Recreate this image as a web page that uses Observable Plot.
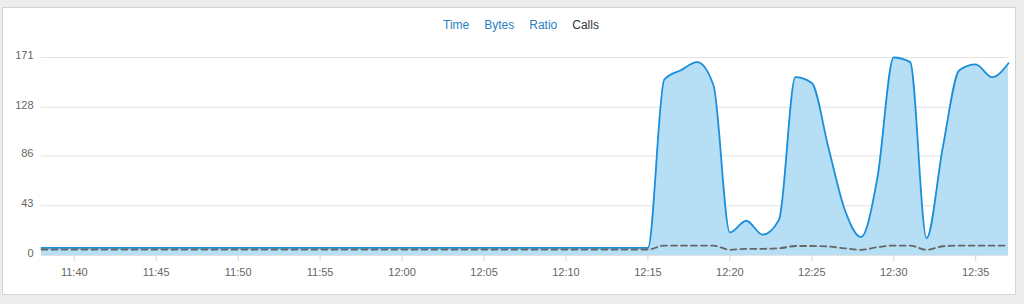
<!DOCTYPE html>
<html>
<head>
<meta charset="utf-8">
<script src="https://cdn.jsdelivr.net/npm/d3@7"></script>
<script src="https://cdn.jsdelivr.net/npm/@observablehq/plot@0.6"></script>
<style>
  html, body { margin: 0; padding: 0; background: #ededed; width: 1024px; height: 304px; overflow: hidden; font-family: "Liberation Sans", Arial, sans-serif; }
  #panel { position: absolute; left: 2px; top: 7px; width: 1012px; height: 286px; background: #fff; border: 1px solid #d4d4d4; }
  #legend { position: absolute; left: 443px; top: 18px; font-size: 12px; white-space: nowrap; }
  #legend span { margin-right: 15px; color: #2b80c0; }
  #legend span.active { color: #333; }
  #chart { position: absolute; left: 0; top: 40px; }
</style>
</head>
<body>
<div id="panel"></div>
<div id="legend"></div>
<div id="chart"></div>
<script>
const tabs = ["Time", "Bytes", "Ratio", "Calls"];
const activeTab = "Calls";

const times = [
  "11:38","11:39","11:40","11:41","11:42","11:43","11:44","11:45","11:46","11:47",
  "11:48","11:49","11:50","11:51","11:52","11:53","11:54","11:55","11:56","11:57",
  "11:58","11:59","12:00","12:01","12:02","12:03","12:04","12:05","12:06","12:07",
  "12:08","12:09","12:10","12:11","12:12","12:13","12:14","12:15","12:16","12:17",
  "12:18","12:19","12:20","12:21","12:22","12:23","12:24","12:25","12:26","12:27",
  "12:28","12:29","12:30","12:31","12:32","12:33","12:34","12:35","12:36","12:37"
];
const calls = [
  6.5,6.5,6.5,6.5,6.5,6.5,6.5,6.5,6.5,6.5,
  6.5,6.5,6.5,6.5,6.5,6.5,6.5,6.5,6.5,6.5,
  6.5,6.5,6.5,6.5,6.5,6.5,6.5,6.5,6.5,6.5,
  6.5,6.5,6.5,6.5,6.5,6.5,6.5,6.5,152,160,
  167,147,20,30,18,31,154,149,94,40,
  16,67,171,167,15,94,160,165,154,166
];
const baseline = [
  5.2,5.2,5.2,5.2,5.2,5.2,5.2,5.2,5.2,5.2,
  5.2,5.2,5.2,5.2,5.2,5.2,5.2,5.2,5.2,5.2,
  5.2,5.2,5.2,5.2,5.2,5.2,5.2,5.2,5.2,5.2,
  5.2,5.2,5.2,5.2,5.2,5.2,5.2,5.2,8.6,8.6,
  8.6,8.6,4.9,5.8,5.8,6.2,8.2,8.2,7.8,6.2,
  4.9,7.2,8.6,8.6,4.9,8.0,8.6,8.6,8.6,8.6
];
const yTicks = [0, 43, 86, 128, 171];
const xDomain = ["11:38", "12:37"];

const toDate = s => { const [h, m] = s.split(":").map(Number); return new Date(Date.UTC(2020, 0, 1, h, m)); };
const data = times.map((t, i) => ({t: toDate(t), calls: calls[i], base: baseline[i]}));

const legend = document.getElementById("legend");
tabs.forEach(t => {
  const s = document.createElement("span");
  s.textContent = t;
  if (t === activeTab) s.className = "active";
  legend.appendChild(s);
});

const chart = Plot.plot({
  width: 1024,
  height: 250,
  marginLeft: 41,
  marginRight: 16,
  marginTop: 17,
  marginBottom: 35,
  style: {fontFamily: "Liberation Sans, Arial, sans-serif", fontSize: "11px", background: "transparent", overflow: "visible"},
  x: {type: "utc", domain: xDomain.map(toDate)},
  y: {domain: [0, 171]},
  marks: [
    Plot.gridY(yTicks, {stroke: "#e2e2e2", strokeOpacity: 1}),
    Plot.areaY(data, {x: "t", y: "calls", fill: "#b6def4", curve: "monotone-x"}),
    Plot.lineY(data, {x: "t", y: "calls", stroke: "#1b8fda", strokeWidth: 1.8, curve: "monotone-x"}),
    Plot.lineY(data, {x: "t", y: "base", stroke: "#666", strokeWidth: 1.8, strokeDasharray: "6,4", curve: "monotone-x"}),
    Plot.axisY(yTicks, {tickSize: 0, tickPadding: 8, fill: "#666", dy: -2, label: null, tickFormat: d => String(d)}),
    Plot.axisX({ticks: d3.utcMinute.every(5), tickFormat: d3.utcFormat("%H:%M"), tickSize: 6, tickPadding: 7, stroke: "#d6d6d6", fill: "#666", label: null})
  ]
});
document.getElementById("chart").appendChild(chart);
</script>
</body>
</html>
